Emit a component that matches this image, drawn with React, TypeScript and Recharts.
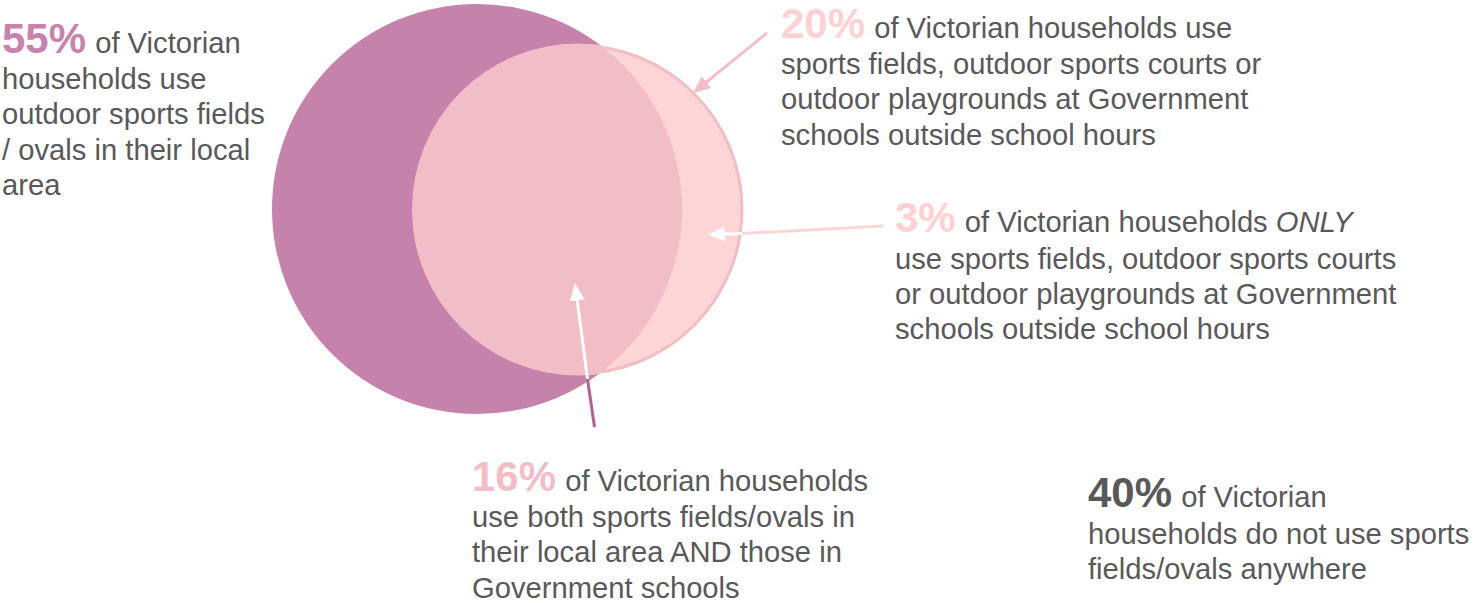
import { ScatterChart, Scatter, XAxis, YAxis } from 'recharts'

const W = 1475
const H = 603
const FONT = "'Liberation Sans', Arial, Helvetica, sans-serif"
const GREY = '#595959'

// callout figures and their wording
const shares = ['55%', '20%', '3%', '16%', '40%']
const shareText = [
    ['of Victorian', 'households use', 'outdoor sports fields', '/ ovals in their local', 'area'],
    ['of Victorian households use', 'sports fields, outdoor sports courts or', 'outdoor playgrounds at Government', 'schools outside school hours'],
    ['of Victorian households _ONLY_', 'use sports fields, outdoor sports courts', 'or outdoor playgrounds at Government', 'schools outside school hours'],
    ['of Victorian households', 'use both sports fields/ovals in', 'their local area AND those in', 'Government schools'],
    ['of Victorian', 'households do not use sports', 'fields/ovals anywhere'],
]
const shareColors = ['#c882ab', '#ffd1d2', '#ffd1d2', '#f2bdc6', GREY]

// callout anchors (left edge, first baseline)
const calloutX = [2, 781, 895, 472, 1088]
const calloutY = [52.5, 37.5, 232, 490.5, 507]

// the two circles: local-area fields and Government school grounds
const circleX = [477, 578]
const circleY = [209, 209.5]
const circleR = [205, 164]

// pointer arrows: [x, y] pairs, last point gets a head when flagged
const arrowPts = [
    [[767, 33], [695.5, 91]],
    [[883, 226], [742, 233.5]],
    [[742, 233.5], [711, 234.5]],
    [[594.5, 427], [587.5, 379]],
    [[587.5, 379], [575.4, 286.3]],
]
const arrowColors = ['#f4bec6', '#ffd5d5', '#ffffff', '#b65f97', '#ffffff']
const arrowHeads = [true, false, true, false, true]

const X_DOMAIN: [number, number] = [0, W]
const PX = W / (X_DOMAIN[1] - X_DOMAIN[0])
const BODY = 29.2
const BIG = 42

const circleData = circleX.map((x, i) => ({ id: i, x, y: circleY[i], r: circleR[i] }))
const calloutData = shares.map((s, i) => ({ x: calloutX[i], y: calloutY[i], share: s, lines: shareText[i], color: shareColors[i] }))

const arrowData = arrowPts.map((pts, i) =>
    pts.map(([x, y], j) => {
        const prev = pts[Math.max(0, j - 1)]
        const len = Math.hypot(x - prev[0], y - prev[1]) || 1
        return {
            x,
            y,
            head: arrowHeads[i] && j === pts.length - 1,
            ux: (x - prev[0]) / len,
            uy: (y - prev[1]) / len,
            color: arrowColors[i],
        }
    })
)

const CircleShape = (props: any) => {
    const { cx, cy, payload } = props
    const r = payload.r * PX
    if (payload.id === 0) {
        return (
            <g>
                <defs>
                    <clipPath id="bigClip">
                        <circle cx={cx} cy={cy} r={r} />
                    </clipPath>
                </defs>
                <circle cx={cx} cy={cy} r={r} fill="#c582aa" />
            </g>
        )
    }
    return (
        <g>
            <circle cx={cx} cy={cy} r={r} fill="#fdd5d6" stroke="#f2bec6" strokeWidth={3} />
            <circle cx={cx} cy={cy} r={r + 2} fill="#f1bdc6" clipPath="url(#bigClip)" />
        </g>
    )
}

const ArrowHead = (props: any) => {
    const { cx, cy, payload } = props
    if (!payload.head) return <g />
    const L = 17
    const hw = 7.5
    const { ux, uy } = payload
    const tx = cx + ux * 3
    const ty = cy + uy * 3
    const bx = tx - ux * L
    const by = ty - uy * L
    const pts = `${tx},${ty} ${bx - uy * hw},${by + ux * hw} ${bx + uy * hw},${by - ux * hw}`
    return <polygon points={pts} fill={payload.color} />
}

const renderParts = (line: string) =>
    line.split('_').map((part, k) => (
        <tspan key={k} fontStyle={k % 2 === 1 ? 'italic' : 'normal'}>{part}</tspan>
    ))

const CalloutShape = (props: any) => {
    const { cx, cy, payload } = props
    return (
        <text x={cx} y={cy} fontFamily={FONT} fill={GREY} style={{ whiteSpace: 'pre' }}>
            <tspan fontWeight={700} fontSize={BIG} fill={payload.color}>{payload.share}</tspan>
            <tspan fontSize={BODY} dx={1}>{' '}{renderParts(payload.lines[0])}</tspan>
            {payload.lines.slice(1).map((line: string, i: number) => (
                <tspan key={i} x={cx} dy={i === 0 ? 36.5 : 35.4} fontSize={BODY}>
                    {renderParts(line)}
                </tspan>
            ))}
        </text>
    )
}

export default function App() {
    return (
        <div style={{ position: 'absolute', left: 0, top: 0, width: W, height: H, background: '#fff' }}>
            <ScatterChart width={W} height={H} margin={{ top: 0, right: 0, bottom: 0, left: 0 }}>
                <XAxis type="number" dataKey="x" domain={X_DOMAIN} hide allowDataOverflow />
                <YAxis type="number" dataKey="y" domain={[0, H]} reversed hide allowDataOverflow />
                <Scatter data={circleData} shape={CircleShape} isAnimationActive={false} />
                {arrowData.map((pts, i) => (
                    <Scatter
                        key={i}
                        data={pts}
                        fill={arrowColors[i]}
                        line={{ stroke: arrowColors[i], strokeWidth: 3 }}
                        shape={ArrowHead}
                        isAnimationActive={false}
                    />
                ))}
                <Scatter data={calloutData} shape={CalloutShape} isAnimationActive={false} />
            </ScatterChart>
        </div>
    )
}
